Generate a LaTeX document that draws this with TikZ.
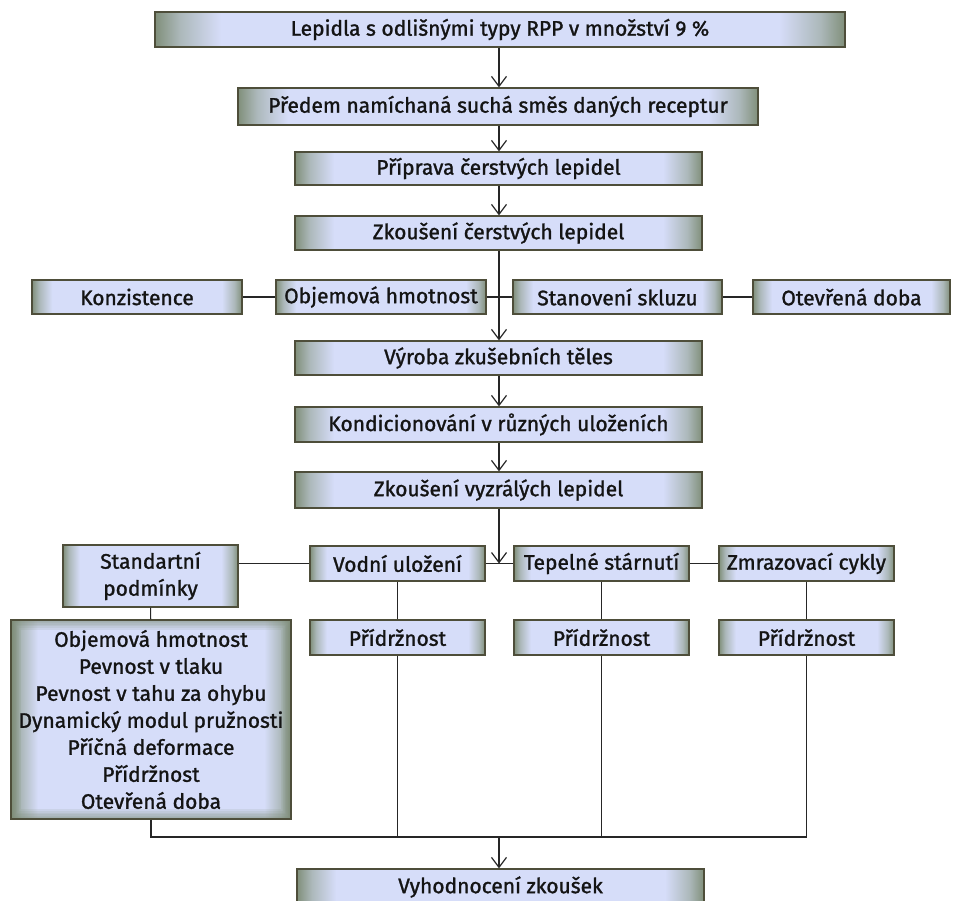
\documentclass[tikz,border=0pt]{standalone}
\usepackage{fontspec}
\setmainfont{Fira Sans}[FakeBold=1.3]
\usetikzlibrary{arrows.meta}
\definecolor{edgeG}{RGB}{128,143,122}
\definecolor{mixG}{RGB}{172,184,186}
\definecolor{midL}{RGB}{214,221,249}
\definecolor{bord}{RGB}{78,78,58}
\definecolor{txt}{RGB}{20,20,20}
\pgfdeclarehorizontalshading{boxsh}{100bp}{color(0bp)=(edgeG); color(25bp)=(edgeG); color(26.8bp)=(mixG); color(29.8bp)=(midL); color(70.2bp)=(midL); color(73.2bp)=(mixG); color(75bp)=(edgeG); color(100bp)=(edgeG)}
\tikzset{
  box/.style={draw=bord, line width=1.3pt, shade, shading=boxsh, inner sep=0pt,
    align=center, text=txt, font=\fontsize{21}{27}\selectfont},
  vign/.style={path picture={\foreach \i in {1,...,6}{\draw[edgeG, opacity=0.13, line width=\i*3.2pt] (path picture bounding box.south west) rectangle (path picture bounding box.north east);}}},
  conn/.style={draw=black!85, line width=1.2pt},
  arr/.style={conn, -{Straight Barb[length=10pt,width=15pt,line width=1.2pt]}}
}
\begin{document}
\begin{tikzpicture}[x=1pt,y=-1pt]
\useasboundingbox (0,0) rectangle (954,901);
\coordinate (ax) at (499,0);
% main column
\node[box, minimum width=690, minimum height=35] (b1) at (500,29.5) {Lepidla s odlišnými typy RPP v množství 9 \%};
\node[box, minimum width=520, minimum height=37] (b2) at (498,106.5) {Předem namíchaná suchá směs daných receptur};
\node[box, minimum width=407, minimum height=33] (b3) at (498.5,168.5) {Příprava čerstvých lepidel};
\node[box, minimum width=407, minimum height=34] (b4) at (498.5,233) {Zkoušení čerstvých lepidel};
% row 1
\node[box, minimum width=210, minimum height=34] (kon) at (137,297) {Konzistence};
\node[box, minimum width=210, minimum height=34] (obj) at (381,297) {Objemová hmotnost};
\node[box, minimum width=209, minimum height=34] (sta) at (617.5,297) {Stanovení skluzu};
\node[box, minimum width=197, minimum height=34] (ote) at (851.5,297) {Otevřená doba};
% middle column
\node[box, minimum width=407, minimum height=34] (vyr) at (498.5,358) {Výroba zkušebních těles};
\node[box, minimum width=407, minimum height=35] (kond) at (498.5,424.5) {Kondicionování v různých uloženích};
\node[box, minimum width=407, minimum height=36] (zkv) at (498.5,490) {Zkoušení vyzrálých lepidel};
% row 2
\node[box, minimum width=175, minimum height=62] (std) at (150.5,576) {Standartní\\podmínky};
\node[box, minimum width=175, minimum height=35] (vod) at (397.5,563.5) {Vodní uložení};
\node[box, minimum width=175, minimum height=35] (tep) at (601.5,563.5) {Tepelné stárnutí};
\node[box, minimum width=175, minimum height=35] (zmr) at (806.5,563.5) {Zmrazovací cykly};
% row 3
\node[box, vign, minimum width=280, minimum height=199] (big) at (151,719.5) {Objemová hmotnost\\Pevnost v tlaku\\Pevnost v tahu za ohybu\\Dynamický modul pružnosti\\Příčná deformace\\Přídržnost\\Otevřená doba};
\node[box, minimum width=175, minimum height=35] (p1) at (397.5,637.5) {Přídržnost};
\node[box, minimum width=175, minimum height=35] (p2) at (601.5,637.5) {Přídržnost};
\node[box, minimum width=175, minimum height=35] (p3) at (806.5,637.5) {Přídržnost};
% final
\node[box, minimum width=407, minimum height=36] (vyh) at (500.5,887) {Vyhodnocení zkoušek};
% connectors
\draw[arr] (b1.south -| ax) -- (b2.north -| ax);
\draw[arr] (b2.south -| ax) -- (b3.north -| ax);
\draw[arr] (b3.south -| ax) -- (b4.north -| ax);
\draw[arr] (b4.south -| ax) -- (vyr.north -| ax);
\draw[conn] (kon) -- (obj);
\draw[conn] (obj) -- (sta);
\draw[conn] (sta) -- (ote);
\draw[arr] (vyr.south -| ax) -- (kond.north -| ax);
\draw[arr] (kond.south -| ax) -- (zkv.north -| ax);
\coordinate (j2) at (ax |- vod.west);
\draw[arr] (zkv.south -| ax) -- (j2);
\draw[conn] (vod.west) -- (vod.west -| std.east);
\draw[conn] (vod) -- (tep);
\draw[conn] (tep) -- (zmr);
\draw[conn] (std) -- (big);
\draw[conn] (vod) -- (p1);
\draw[conn] (tep) -- (p2);
\draw[conn] (zmr) -- (p3);
\coordinate (jb) at (499,837);
\draw[conn] (big.south) |- (jb -| p3.south) -- (p3.south);
\draw[conn] (p1.south) -- (p1.south |- jb);
\draw[conn] (p2.south) -- (p2.south |- jb);
\draw[arr] (jb) -- (vyh.north -| jb);
\end{tikzpicture}
\end{document}
